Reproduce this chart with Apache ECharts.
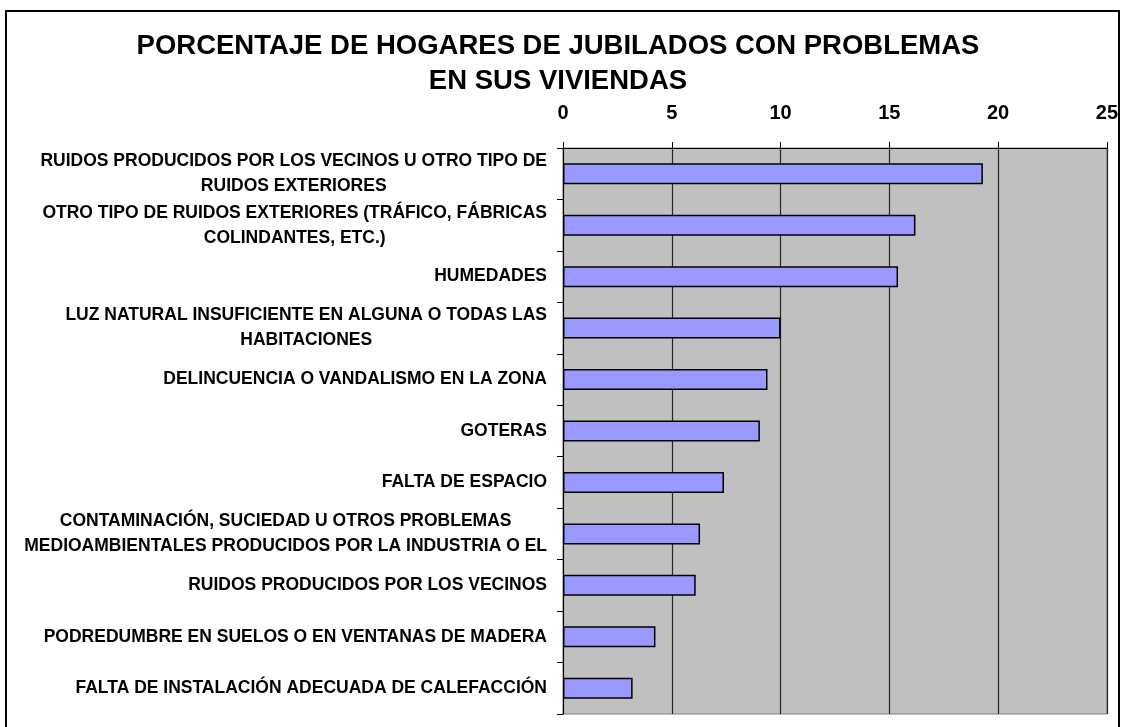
<!DOCTYPE html>
<html>
<head>
<meta charset="utf-8">
<script src="https://cdn.jsdelivr.net/npm/echarts@6/dist/echarts.min.js"></script>
<style>
  html, body { margin: 0; padding: 0; background: #fff; }
  #chart { position: absolute; left: 0; top: 0; width: 1121px; height: 727px; }
  #frame { position: absolute; left: 5px; top: 10px; width: 1115px; height: 740px;
           border: 2px solid #000; box-sizing: border-box; pointer-events: none; }
</style>
</head>
<body>
<div id="chart"></div>
<div id="frame"></div>
<script>
const titleText = 'PORCENTAJE DE HOGARES DE JUBILADOS CON PROBLEMAS\nEN SUS VIVIENDAS';

const categories = [
  'RUIDOS PRODUCIDOS POR LOS VECINOS U OTRO TIPO DE\nRUIDOS EXTERIORES',
  'OTRO TIPO DE RUIDOS EXTERIORES (TRÁFICO, FÁBRICAS\nCOLINDANTES, ETC.)',
  'HUMEDADES',
  'LUZ NATURAL INSUFICIENTE EN ALGUNA O TODAS LAS\nHABITACIONES',
  'DELINCUENCIA O VANDALISMO EN LA ZONA',
  'GOTERAS',
  'FALTA DE ESPACIO',
  'CONTAMINACIÓN, SUCIEDAD U OTROS PROBLEMAS\nMEDIOAMBIENTALES PRODUCIDOS POR LA INDUSTRIA O EL',
  'RUIDOS PRODUCIDOS POR LOS VECINOS',
  'PODREDUMBRE EN SUELOS O EN VENTANAS DE MADERA',
  'FALTA DE INSTALACIÓN ADECUADA DE CALEFACCIÓN'
];

const values = [19.3, 16.2, 15.4, 10.0, 9.4, 9.05, 7.4, 6.3, 6.1, 4.25, 3.2];

const xMin = 0;
const xMax = 25;
const xStep = 5;

const FONT = "'Liberation Sans', Arial, sans-serif";

const chart = echarts.init(document.getElementById('chart'), null, { renderer: 'canvas' });

chart.setOption({
  animation: false,
  backgroundColor: '#ffffff',
  title: {
    text: titleText,
    left: 553,
    top: 24,
    textAlign: 'center',
    textStyle: {
      fontFamily: FONT,
      fontWeight: 'bold',
      fontSize: 27.5,
      lineHeight: 35,
      color: '#000'
    }
  },
  grid: {
    left: 563,
    right: 14,
    top: 148,
    bottom: 13,
    show: true,
    backgroundColor: '#C0C0C0',
    borderColor: '#808080',
    borderWidth: 1,
    containLabel: false
  },
  xAxis: {
    type: 'value',
    position: 'top',
    min: xMin,
    max: xMax,
    interval: xStep,
    axisLine: { show: true, lineStyle: { color: '#000', width: 1 } },
    axisTick: { show: true, inside: false, length: 6, lineStyle: { color: '#000', width: 1 } },
    splitLine: { show: true, lineStyle: { color: '#262626', width: 1.2 } },
    axisLabel: {
      margin: 35,
      verticalAlign: 'middle',
      fontFamily: FONT,
      fontWeight: 'bold',
      fontSize: 20,
      color: '#000'
    }
  },
  yAxis: {
    type: 'category',
    inverse: true,
    data: categories,
    axisLine: { show: true, lineStyle: { color: '#000', width: 1 } },
    axisTick: { show: true, inside: false, length: 6, lineStyle: { color: '#000', width: 1 } },
    splitLine: { show: false },
    axisLabel: {
      interval: 0,
      margin: 16,
      fontFamily: FONT,
      fontWeight: 'bold',
      fontSize: 17.5,
      lineHeight: 25,
      color: '#000',
      formatter: function (v) {
        return v.split('\n').map(function (l) { return '{c|' + l + '}'; }).join('\n');
      },
      rich: {
        c: {
          align: 'center',
          fontFamily: FONT,
          fontWeight: 'bold',
          fontSize: 17.5,
          lineHeight: 25,
          color: '#000'
        }
      }
    }
  },
  series: [{
    type: 'bar',
    data: values,
    barWidth: 21,
    itemStyle: {
      color: '#9999FF',
      borderColor: '#000',
      borderWidth: 1.5
    }
  }]
});
</script>
</body>
</html>
